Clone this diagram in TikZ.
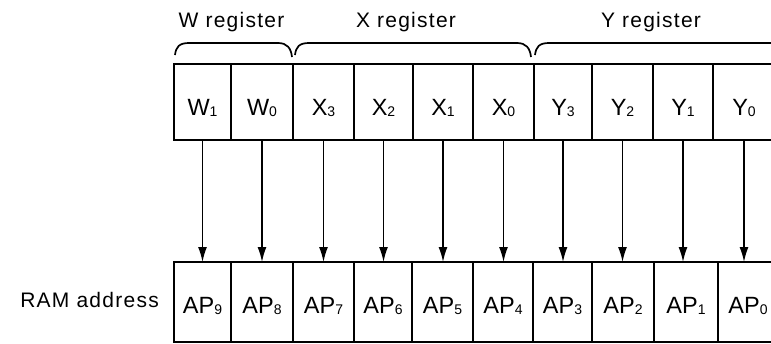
\documentclass[tikz,border=0pt]{standalone}
\usepackage{fontspec}
\setmainfont{Liberation Sans}
\newfontfamily\lblfont{Liberation Sans}[LetterSpace=6]
\usetikzlibrary{arrows.meta,calc}
\newcommand\sbs[1]{\raisebox{-1pt}{\fontsize{14}{14}\selectfont #1}}
\begin{document}
\begin{tikzpicture}[x=1pt,y=-1pt,
  cellbase/.style={draw,line width=1.7pt,inner sep=0pt,outer sep=0pt,
    font=\fontsize{23.5}{25}\selectfont},
  topcell/.style={cellbase,minimum height=76pt,text height=26pt,text depth=0pt},
  botcell/.style={cellbase,minimum height=80pt,text height=22pt,text depth=0pt},
  lbl/.style={inner sep=0pt,font=\fontsize{21}{23}\lblfont},
  arr/.style={line width=1.5pt,-{Latex[length=15pt,width=9pt]}},
  brk/.style={line width=1.7pt}]
\useasboundingbox (0,0) rectangle (771,343);
\clip (0,0) rectangle (771,343);
% top register cells
\foreach \l/\r/\n/\t/\s in {174/231/w1/W/1,231/293/w0/W/0,293/354/x3/X/3,354/413/x2/X/2,
  413/473/x1/X/1,473/534/x0/X/0,534/592/y3/Y/3,592/653/y2/Y/2,653/713/y1/Y/1,713/775/y0/Y/0}{
  \pgfmathsetmacro\cw{\r-\l}
  \node[topcell,minimum width=\cw pt] (\n) at ({(\l+\r)/2},102) {\t\sbs{\s}};
}
% RAM address cells
\foreach \l/\r/\n/\s in {174/231/ap9/9,231/293/ap8/8,293/354/ap7/7,354/412/ap6/6,
  412/473/ap5/5,473/533/ap4/4,533/592/ap3/3,592/654/ap2/2,654/718/ap1/1,718/778/ap0/0}{
  \pgfmathsetmacro\cw{\r-\l}
  \node[botcell,minimum width=\cw pt] (\n) at ({(\l+\r)/2},302) {AP\sbs{\s}};
}
% arrows
\foreach \a/\b in {w1/ap9,w0/ap8,x3/ap7,x2/ap6,x1/ap5,x0/ap4,y3/ap3,y2/ap2,y1/ap1,y0/ap0}{
  \draw[arr] (\a.south) -- (\a.south |- \b.north);
}
% braces
\newcommand\brkpath[2]{%
  \draw[brk] (#1,55) .. controls (#1+1,47) and (#1+4,43) .. (#1+14,43)
    -- (#2-14,43) .. controls (#2-5,43) and (#2-1,48) .. (#2,57);}
\brkpath{175}{292}
\brkpath{295}{531}
\brkpath{535}{800}
% labels
\node[lbl,anchor=base] (wl) at (231.5,27.5) {W register};
\node[lbl,anchor=base] (xl) at (406,27.5) {X register};
\node[lbl,anchor=base] (yl) at (651,27.5) {Y register};
\node[lbl,anchor=base east] (ram) at ($(ap9.west)+(-15,5)$) {RAM address};
\end{tikzpicture}
\end{document}
